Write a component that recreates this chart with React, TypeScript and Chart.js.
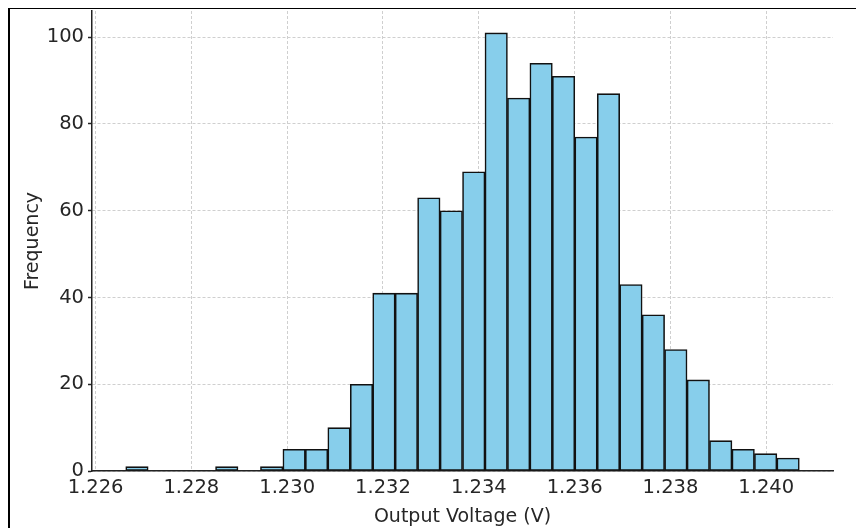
import React, { useEffect, useRef } from "react";
import { Chart, registerables } from "chart.js";

Chart.register(...registerables);

// Histogram definition (30 bins)
const binStart = 1.22663;
const binEnd = 1.24069;
const counts = [
  1, 0, 0, 0, 1, 0, 1, 5, 5, 10,
  20, 41, 41, 63, 60, 69, 101, 86, 94, 91,
  77, 87, 43, 36, 28, 21, 7, 5, 4, 3,
];
const xTickValues = [1.226, 1.228, 1.23, 1.232, 1.234, 1.236, 1.238, 1.24];
const xTickLabels = ["1.226", "1.228", "1.230", "1.232", "1.234", "1.236", "1.238", "1.240"];
const yTickValues = [0, 20, 40, 60, 80, 100];
const yTickLabels = ["0", "20", "40", "60", "80", "100"];
const xMin = 1.225926;
const xMax = 1.241393;
const yMax = 106.05;
const xTitle = "Output Voltage (V)";
const yTitle = "Frequency";

export default function App() {
  const ref = useRef<HTMLCanvasElement | null>(null);

  useEffect(() => {
    if (!ref.current) return;
    const binWidth = (binEnd - binStart) / counts.length;
    const data = counts.map((c, i) => ({ x: binStart + (i + 0.5) * binWidth, y: c }));
    const font = { family: "'DejaVu Sans', sans-serif", size: 19 };
    const tickFont = { family: "'DejaVu Sans', sans-serif", size: 19.5 };
    const textColor = "#262626";
    const gridColor = "#cfcfcf";
    const chart = new Chart(ref.current, {
      type: "bar",
      data: {
        datasets: [
          {
            data,
            backgroundColor: "#87CEEB",
            borderColor: "#111111",
            borderWidth: 1.6,
            borderSkipped: false,
            barPercentage: 1,
            categoryPercentage: 1,
          },
        ],
      },
      options: {
        responsive: false,
        animation: false,
        layout: { padding: { left: 0, top: 2, right: 31, bottom: 0 } },
        plugins: { legend: { display: false }, tooltip: { enabled: false } },
        scales: {
          x: {
            type: "linear",
            min: xMin,
            max: xMax,
            offset: false,
            z: 1,
            afterBuildTicks: (axis: any) => {
              axis.ticks = xTickValues.map((v) => ({ value: v }));
            },
            afterFit: (axis: any) => {
              axis.height = 57;
              axis.paddingLeft = 0;
              axis.paddingRight = 0;
            },
            ticks: {
              font: tickFont,
              color: textColor,
              padding: 5,
              maxRotation: 0,
              autoSkip: false,
              callback: (v: any) => {
                const i = xTickValues.findIndex((t) => Math.abs(t - Number(v)) < 1e-9);
                return i >= 0 ? xTickLabels[i] : "";
              },
            },
            grid: {
              offset: false,
              color: gridColor,
              lineWidth: 1,
              drawTicks: false,
            },
            border: { display: true, color: "#222222", width: 1.5, dash: [3, 2] },
            title: { display: true, text: xTitle, font, color: textColor, padding: { top: 12, bottom: 0 } },
          },
          y: {
            type: "linear",
            min: 0,
            max: yMax,
            z: 1,
            afterBuildTicks: (axis: any) => {
              axis.ticks = yTickValues.map((v) => ({ value: v }));
            },
            afterFit: (axis: any) => {
              axis.width = 82;
              axis.paddingTop = 0;
              axis.paddingBottom = 0;
            },
            ticks: {
              font: tickFont,
              color: textColor,
              padding: 4,
              autoSkip: false,
              callback: (v: any) => {
                const i = yTickValues.indexOf(Number(v));
                return i >= 0 ? yTickLabels[i] : "";
              },
            },
            grid: {
              color: gridColor,
              lineWidth: 1,
              drawTicks: true,
              tickLength: 4,
              tickColor: "#222222",
              tickWidth: 1.5,
            },
            border: { display: true, color: "#222222", width: 1.5, dash: [3, 2] },
            title: { display: true, text: yTitle, font, color: textColor, padding: { top: 12, bottom: 0 } },
          },
        },
      },
    } as any);
    return () => chart.destroy();
  }, []);

  return (
    <div
      style={{
        width: 856,
        height: 521,
        borderTop: "2px solid #000",
        borderLeft: "2px solid #000",
        boxSizing: "border-box",
        marginTop: -1,
      }}
    >
      <canvas ref={ref} width={854} height={519} style={{ display: "block" }} />
    </div>
  );
}
